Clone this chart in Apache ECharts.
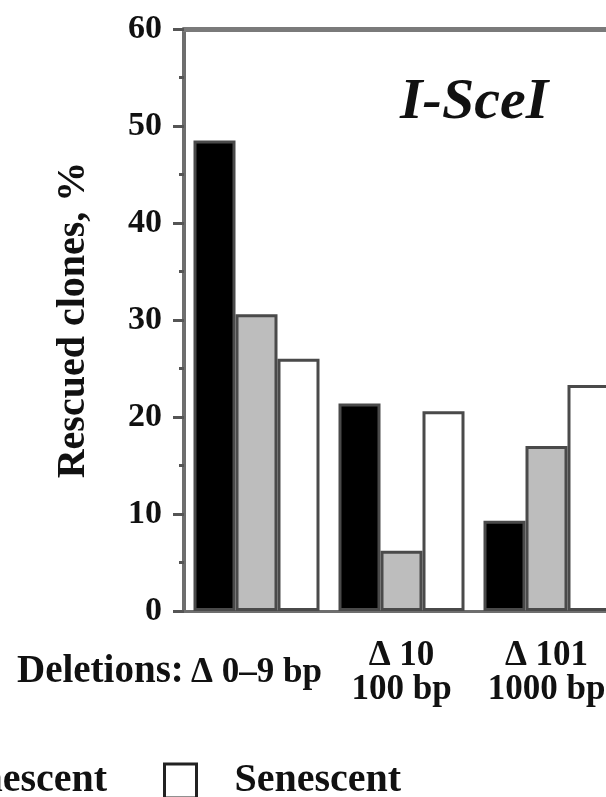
<!DOCTYPE html>
<html>
<head>
<meta charset="utf-8">
<script src="https://cdn.jsdelivr.net/npm/echarts@6/dist/echarts.min.js"></script>
<style>
  html, body { margin: 0; padding: 0; background: #fff; overflow: hidden; }
  /* the figure is cropped on the right: draw a little wider than the window */
  #chart { width: 619px; height: 797px; }
</style>
</head>
<body>
<div id="chart"></div>
<script>
  // groups of deletion size
  var categories = ['Δ 0–9 bp', 'Δ 10\n100 bp', 'Δ 101\n1000 bp']
  var seriesNames = ['Young', 'Presenescent', 'Senescent']
  // rescued clones, %
  var youngValues = [48.5, 21.4, 9.3]
  var presenescentValues = [30.6, 6.2, 17.0]
  var senescentValues = [26.0, 20.6, 23.3]
  var yTicks = [0, 10, 20, 30, 40, 50, 60]

  var serif = '"Liberation Serif", "DejaVu Serif", serif'
  var fills = ['#000000', '#bdbdbd', '#ffffff']
  var valueLists = [youngValues, presenescentValues, senescentValues]

  var myChart = echarts.init(document.getElementById('chart'))

  var series = seriesNames.map(function (name, i) {
    return {
      name: name,
      type: 'bar',
      barWidth: 42,
      barGap: 0,
      data: valueLists[i],
      itemStyle: {
        color: fills[i],
        borderColor: '#4a4a4a',
        borderWidth: 3
      }
    }
  })

  var legendBase = {
    top: 761,
    padding: 0,
    itemGap: 56,
    itemWidth: 32,
    itemHeight: 34,
    icon: 'rect',
    itemStyle: { borderColor: '#222', borderWidth: 3 },
    textStyle: { fontFamily: serif, fontSize: 40, fontWeight: 'bold', color: '#111', padding: [0, 0, 0, 33] }
  }

  myChart.setOption({
    animation: false,
    title: {
      text: 'I-SceI',
      left: 400,
      top: 74,
      padding: 0,
      textStyle: { fontFamily: serif, fontSize: 58, fontWeight: 'bold', fontStyle: 'italic', color: '#111' }
    },
    grid: {
      left: 184,
      top: 29,
      right: 0,
      bottom: 186,
      show: false
    },
    legend: [
      // first two items run off the left edge
      Object.assign({ data: seriesNames.slice(0, 2), left: -420 }, legendBase),
      Object.assign({ data: seriesNames.slice(2), left: 163 }, legendBase)
    ],
    xAxis: [
      {
        type: 'category',
        data: categories,
        axisLine: { lineStyle: { color: '#6e6e6e', width: 3 } },
        axisTick: { length: 14, lineStyle: { color: '#888', width: 3 } },
        axisLabel: {
          interval: 0,
          margin: 62,
          verticalAlign: 'middle',
          fontFamily: serif,
          fontSize: 35,
          lineHeight: 34,
          fontWeight: 'bold',
          color: '#111'
        }
      },
      {
        // top frame line
        type: 'category',
        position: 'top',
        data: categories,
        axisLine: { lineStyle: { color: '#7a7a7a', width: 5 } },
        axisTick: { show: false },
        axisLabel: { show: false }
      }
    ],
    yAxis: {
      type: 'value',
      min: yTicks[0],
      max: yTicks[yTicks.length - 1],
      interval: 10,
      name: 'Rescued clones, %',
      nameLocation: 'middle',
      nameGap: 90,
      nameTextStyle: { fontFamily: serif, fontSize: 40, fontWeight: 'bold', color: '#111' },
      axisLine: { show: true, lineStyle: { color: '#6e6e6e', width: 4 } },
      axisTick: { show: true, length: 11, lineStyle: { color: '#555', width: 3 } },
      minorTick: { show: true, splitNumber: 2, length: 5, lineStyle: { color: '#555', width: 3 } },
      splitLine: { show: false },
      axisLabel: {
        margin: 22,
        fontFamily: serif,
        fontSize: 34,
        fontWeight: 'bold',
        color: '#111'
      }
    },
    graphic: [
      {
        type: 'text',
        left: 17,
        top: 652,
        style: { text: 'Deletions:', font: 'bold 39px ' + serif, fill: '#111' }
      }
    ],
    series: series
  })
</script>
</body>
</html>
